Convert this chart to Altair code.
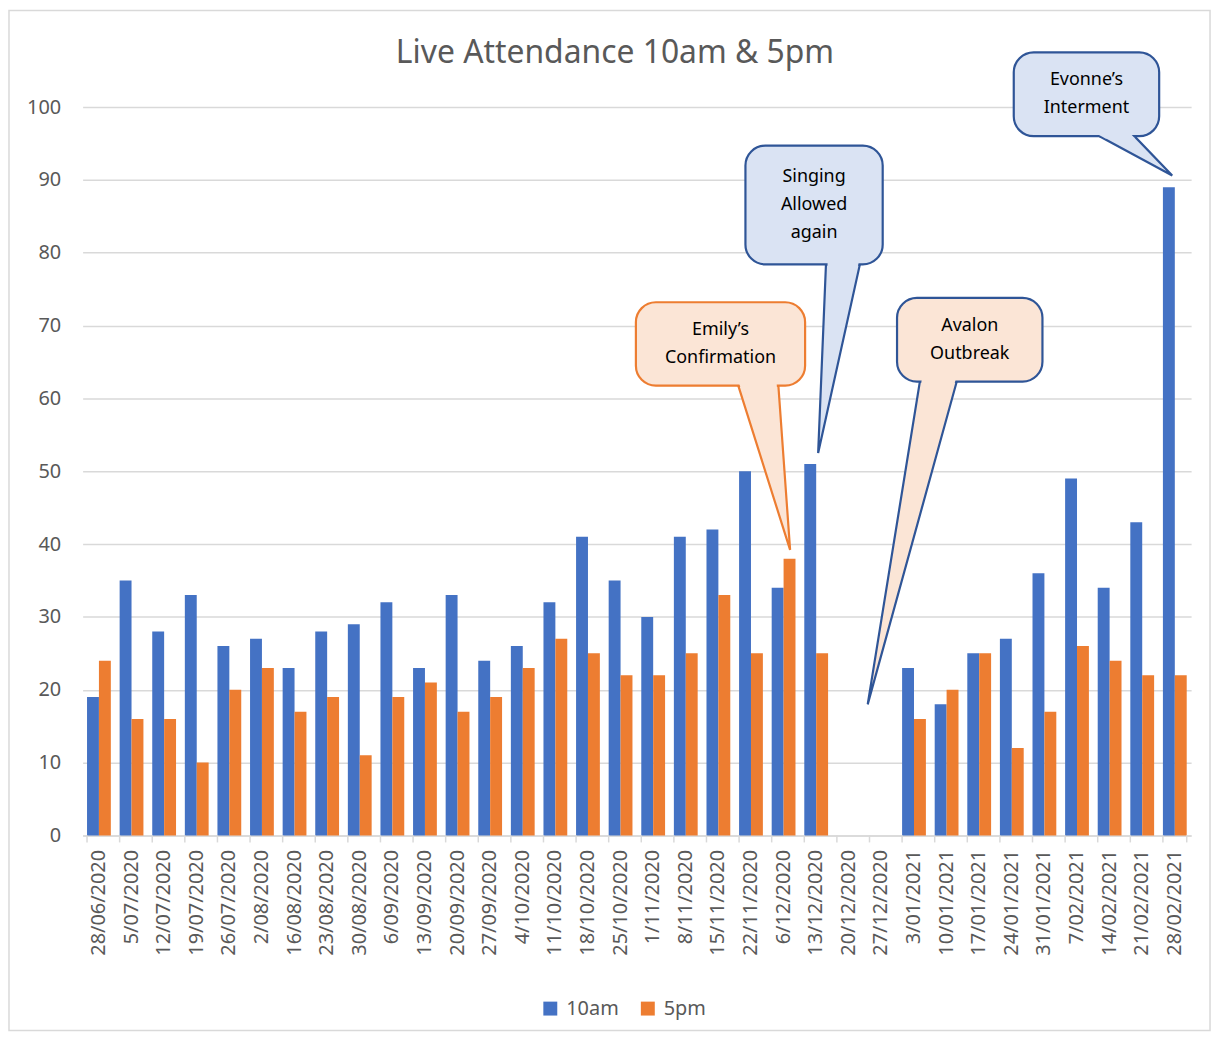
import altair as alt
import pandas as pd

# ---------------- data ----------------
dates = ["28/06/2020", "5/07/2020", "12/07/2020", "19/07/2020", "26/07/2020",
         "2/08/2020", "16/08/2020", "23/08/2020", "30/08/2020", "6/09/2020",
         "13/09/2020", "20/09/2020", "27/09/2020", "4/10/2020", "11/10/2020",
         "18/10/2020", "25/10/2020", "1/11/2020", "8/11/2020", "15/11/2020",
         "22/11/2020", "6/12/2020", "13/12/2020", "20/12/2020", "27/12/2020",
         "3/01/2021", "10/01/2021", "17/01/2021", "24/01/2021", "31/01/2021",
         "7/02/2021", "14/02/2021", "21/02/2021", "28/02/2021"]
am = [19, 35, 28, 33, 26, 27, 23, 28, 29, 32, 23, 33, 24, 26, 32, 41, 35, 30,
      41, 42, 50, 34, 51, None, None, 23, 18, 25, 27, 36, 49, 34, 43, 89]
pm = [24, 16, 16, 10, 20, 23, 17, 19, 11, 19, 21, 17, 19, 23, 27, 25, 22, 22,
      25, 33, 25, 38, 25, None, None, 16, 20, 25, 12, 17, 26, 24, 22, 22]
series = ["10am", "5pm"]
series_colors = ["#4472C4", "#ED7D31"]

# callouts (x in category-index units, y in attendance units)
co_names = ["Singing", "Evonne", "Emily", "Avalon"]
co_labels = ["Singing\nAllowed\nagain", "Evonne\u2019s\nInterment",
             "Emily\u2019s\nConfirmation", "Avalon\nOutbreak"]
co_fill = ["#DAE3F3", "#DAE3F3", "#FBE5D6", "#FBE5D6"]
co_stroke = ["#2F5597", "#2F5597", "#ED7D31", "#2F5597"]
co_box_x1 = [20.33, 28.56, 16.97, 24.98]
co_box_x2 = [24.54, 33.02, 22.16, 29.44]
co_box_y1 = [78.4, 96.0, 61.75, 62.3]
co_box_y2 = [94.7, 107.5, 73.2, 73.8]
co_tail_xl = [22.80, 31.19, 20.11, 25.68]
co_tail_xr = [23.84, 32.26, 21.34, 26.81]
co_tail_ax = [22.56, 33.42, 21.70, 24.08]
co_tail_ay = [52.5, 90.6, 39.2, 18.0]

# ---------------- tables ----------------
rows = []
for d, a, p in zip(dates, am, pm):
    if a is not None:
        rows.append({"date": d, "series": series[0], "value": a})
    if p is not None:
        rows.append({"date": d, "series": series[1], "value": p})
df = pd.DataFrame(rows)

W, H = 1114, 732
PX_PER_UNIT = H / 100.0
STEP_PX = W / len(dates)
LINE_H = 28


def edge_x(x_base, x_apex, y_base, y_apex, y):
    t = (y_base - y) / (y_base - y_apex)
    return x_base + (x_apex - x_base) * t


tail_rows, fill_rows, box_rows = [], [], []
for i, n in enumerate(co_names):
    yb, ya = co_box_y1[i], co_tail_ay[i]
    tail_rows.append({"name": n, "fill": co_fill[i], "stroke": co_stroke[i],
                      "ty": yb, "tx1": co_tail_xl[i], "tx2": co_tail_xr[i]})
    tail_rows.append({"name": n, "fill": co_fill[i], "stroke": co_stroke[i],
                      "ty": ya, "tx1": co_tail_ax[i], "tx2": co_tail_ax[i]})
    inset = 1.6 / STEP_PX
    band = 2.4 / PX_PER_UNIT
    for yy in (yb + band, yb - band):
        fill_rows.append({"name": n, "fill": co_fill[i], "ty": yy,
                          "tx1": edge_x(co_tail_xl[i], co_tail_ax[i], yb, ya, yy) + inset,
                          "tx2": edge_x(co_tail_xr[i], co_tail_ax[i], yb, ya, yy) - inset})
    nlines = co_labels[i].count("\n") + 1
    box_rows.append({"name": n, "label": co_labels[i], "fill": co_fill[i], "stroke": co_stroke[i],
                     "bx1": co_box_x1[i], "bx2": co_box_x2[i], "by1": co_box_y1[i], "by2": co_box_y2[i],
                     "cx": (co_box_x1[i] + co_box_x2[i]) / 2,
                     "cy": (co_box_y1[i] + co_box_y2[i]) / 2 + (nlines - 1) * LINE_H / 2 / PX_PER_UNIT})
tail_df = pd.DataFrame(tail_rows)
tailfill_df = pd.DataFrame(fill_rows)
box_df = pd.DataFrame(box_rows)

FONT = "Noto Sans"
GREY = "#595959"
LINE = "#D9D9D9"

x_scale = alt.Scale(domain=dates, paddingInner=0.27, paddingOuter=0.135)
y_scale = alt.Scale(domain=[0, 100], nice=False)
cx_scale = alt.Scale(domain=[0, len(dates)], nice=False, zero=False)
cy_scale = alt.Scale(domain=[0, 100], nice=False)

border = alt.Chart(pd.DataFrame({"a": [0]})).mark_rect(
    fillOpacity=0, stroke=LINE, strokeWidth=1.5
).encode(x=alt.value(-74), x2=alt.value(W + 19), y=alt.value(-97), y2=alt.value(H + 196))

bars = alt.Chart(df).mark_bar().encode(
    x=alt.X("date:N", scale=x_scale, sort=dates,
            axis=alt.Axis(title=None, labelAngle=270, labelFont=FONT, labelFontSize=20,
                          labelColor=GREY, ticks=False, tickSize=0, labelPadding=14,
                          domainColor=LINE, domainWidth=1.5, grid=False,
                          labelOverlap=False, labelBound=False)),
    xOffset=alt.XOffset("series:N", scale=alt.Scale(domain=series, paddingInner=0, paddingOuter=0)),
    y=alt.Y("value:Q", scale=y_scale,
            axis=alt.Axis(title=None, values=list(range(0, 101, 10)), ticks=False, tickSize=0,
                          domain=False, gridColor=LINE, gridWidth=1.5, labelFont=FONT,
                          labelFontSize=20, labelColor=GREY, labelPadding=22)),
    color=alt.Color("series:N", scale=alt.Scale(domain=series, range=series_colors),
                    legend=alt.Legend(title=None, orient="none", legendX=460, legendY=896,
                                      direction="horizontal", symbolType="square",
                                      symbolSize=196, symbolStrokeWidth=0, labelFont=FONT,
                                      labelFontSize=20, labelColor=GREY, columnPadding=19,
                                      labelOffset=6)),
)

tick_df = pd.DataFrame({"date": dates})
ticks0 = alt.Chart(tick_df).mark_rule(color=LINE, strokeWidth=1.5).encode(
    x=alt.X("date:N", scale=x_scale, sort=dates, bandPosition=0, axis=None),
    y=alt.value(H), y2=alt.value(H + 7))
ticks1 = alt.Chart(pd.DataFrame({"date": [dates[-1]]})).mark_rule(color=LINE, strokeWidth=1.5).encode(
    x=alt.X("date:N", scale=x_scale, sort=dates, bandPosition=1, axis=None),
    y=alt.value(H), y2=alt.value(H + 7))

tails = alt.Chart(tail_df).mark_area(orient="horizontal", strokeWidth=2.2).encode(
    y=alt.Y("ty:Q", scale=cy_scale, axis=None),
    x=alt.X("tx1:Q", scale=cx_scale, axis=None),
    x2="tx2:Q",
    fill=alt.Fill("fill:N", scale=None),
    stroke=alt.Stroke("stroke:N", scale=None),
    detail="name:N",
)
boxes = alt.Chart(box_df).mark_rect(cornerRadius=20, strokeWidth=2.2).encode(
    x=alt.X("bx1:Q", scale=cx_scale, axis=None),
    x2="bx2:Q",
    y=alt.Y("by1:Q", scale=cy_scale, axis=None),
    y2="by2:Q",
    fill=alt.Fill("fill:N", scale=None),
    stroke=alt.Stroke("stroke:N", scale=None),
)
tailfill = alt.Chart(tailfill_df).mark_area(orient="horizontal").encode(
    y=alt.Y("ty:Q", scale=cy_scale, axis=None),
    x=alt.X("tx1:Q", scale=cx_scale, axis=None),
    x2="tx2:Q",
    fill=alt.Fill("fill:N", scale=None),
    detail="name:N",
)
texts = alt.Chart(box_df).mark_text(
    font=FONT, fontSize=18, lineHeight=LINE_H, lineBreak="\n", color="#000000",
    align="center", baseline="middle"
).encode(
    x=alt.X("cx:Q", scale=cx_scale, axis=None),
    y=alt.Y("cy:Q", scale=cy_scale, axis=None),
    text="label:N",
)

chart = alt.layer(border, bars, ticks0, ticks1, tails, boxes, tailfill, texts).resolve_scale(
    x="independent", y="independent"
).properties(
    width=W, height=H,
    padding={"left": 75, "top": 97, "right": 24, "bottom": 203},
    autosize=alt.AutoSizeParams(type="none"),
    background="white",
    title=alt.Title("Live Attendance 10am & 5pm", font=FONT, fontSize=32, fontWeight="normal",
                    color=GREY, anchor="middle", frame="group", dx=-22, offset=-75,
                    baseline="middle"),
).configure_view(strokeWidth=0)

chart.save("out.html", embed_options={"renderer": "svg", "actions": False})
